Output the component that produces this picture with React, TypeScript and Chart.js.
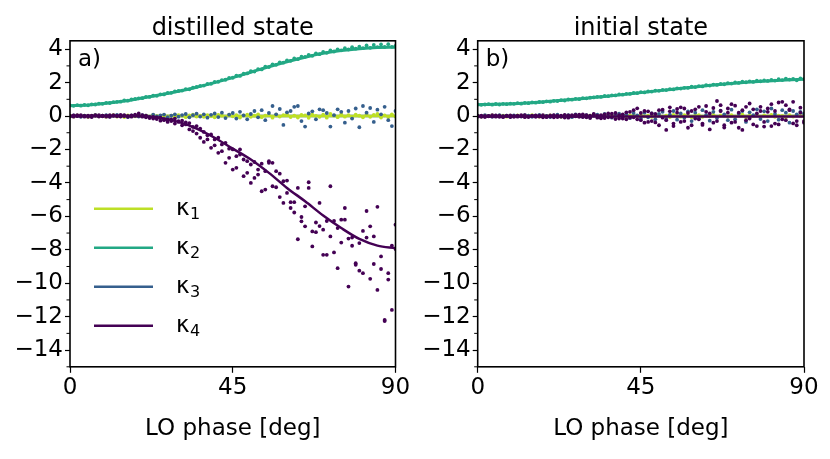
import { useEffect, useRef } from "react";
import Chart from "chart.js/auto";

const FONT = '"DejaVu Sans", sans-serif';

// measurement grid (LO phase, degrees) and grid of the fitted curves
const phase = [
  0, 1, 2, 3, 4, 5, 6, 7, 8, 9, 10, 11, 12, 13, 14, 15, 16, 17, 18, 19,
  20, 21, 22, 23, 24, 25, 26, 27, 28, 29, 30, 31, 32, 33, 34, 35, 36, 37, 38, 39,
  40, 41, 42, 43, 44, 45, 46, 47, 48, 49, 50, 51, 52, 53, 54, 55, 56, 57, 58, 59,
  60, 61, 62, 63, 64, 65, 66, 67, 68, 69, 70, 71, 72, 73, 74, 75, 76, 77, 78, 79,
  80, 81, 82, 83, 84, 85, 86, 87, 88, 89, 90,
];
const fitPhase = [0, 5, 10, 15, 20, 25, 30, 35, 40, 45, 50, 55, 60, 65, 70, 75, 80, 85, 90];

const seriesNames = ["1", "2", "3", "4"]; // subscripts of κ
const seriesColors = ["#bddf26", "#22a884", "#355f8d", "#440154"];
const lineWidths = [2.5, 3, 2.5, 2.5];
const xTicks = [0, 45, 90];
const yTicks = [4, 2, 0, -2, -4, -6, -8, -10, -12, -14];
const yMinorTicks = [3, 1, -1, -3, -5, -7, -9, -11, -13, -15];

// a) distilled state
const distK1 = [
  0.02, -0.03, 0.04, -0.01, 0.03, -0.05, 0.01, 0.05, -0.02, 0.03,
  -0.04, 0.02, 0.06, -0.03, 0.01, -0.06, 0.04, 0.02, -0.02, 0.05,
  -0.01, 0.03, -0.05, 0.07, 0.0, -0.04, 0.06, -0.02, 0.03, -0.06,
  0.05, 0.01, -0.07, 0.04, 0.08, -0.03, 0.02, -0.05, 0.06, 0.0,
  -0.08, 0.07, 0.03, -0.06, 0.09, -0.02, 0.05, -0.09, 0.04, 0.08,
  -0.05, 0.02, 0.1, -0.07, 0.03, 0.06, -0.1, 0.08, -0.03, 0.05,
  0.11, -0.06, 0.02, -0.09, 0.07, 0.04, -0.11, 0.09, 0.01, -0.05,
  0.08, -0.1, 0.12, 0.03, -0.07, 0.1, -0.04, 0.06, -0.12, 0.09,
  0.02, -0.08, 0.11, -0.05, 0.07, 0.13, -0.09, 0.04, -0.06, 0.1,
  -0.03,
];
const distK2 = [
  0.64, 0.61, 0.65, 0.62, 0.67, 0.64, 0.7, 0.69, 0.74, 0.73,
  0.79, 0.78, 0.83, 0.85, 0.86, 0.93, 0.92, 0.99, 1.02, 1.06,
  1.07, 1.15, 1.14, 1.22, 1.21, 1.3, 1.29, 1.38, 1.39, 1.47,
  1.5, 1.52, 1.61, 1.6, 1.7, 1.74, 1.8, 1.82, 1.92, 1.93,
  2.04, 2.05, 2.15, 2.17, 2.28, 2.29, 2.41, 2.4, 2.53, 2.55,
  2.68, 2.66, 2.8, 2.79, 2.95, 2.93, 3.09, 3.06, 3.21, 3.19,
  3.33, 3.3, 3.44, 3.4, 3.55, 3.54, 3.66, 3.6, 3.75, 3.7,
  3.84, 3.78, 3.92, 3.86, 3.99, 3.93, 4.06, 3.98, 4.12, 4.03,
  4.15, 4.06, 4.22, 4.08, 4.25, 4.12, 4.28, 4.13, 4.3, 4.14,
  4.2,
];
const distK3 = [
  -0.02, 0.04, 0.01, -0.05, 0.03, 0.0, -0.03, 0.06, -0.01, 0.02,
  0.05, -0.04, 0.02, 0.07, -0.02, 0.03, -0.06, 0.04, 0.01, -0.03,
  0.06, 0.02, -0.05, 0.08, -0.02, 0.04, 0.09, -0.07, 0.03, 0.1,
  -0.04, 0.06, 0.12, -0.08, 0.05, 0.14, -0.03, 0.1, -0.1, 0.07,
  0.15, -0.06, 0.2, -0.12, 0.08, 0.18, -0.15, 0.25, 0.04, -0.2,
  0.12, 0.3, -0.08, 0.35, -0.25, 0.18, 0.6, 0.1, 0.42, -0.53,
  0.22, 0.3, 0.55, 0.6, -0.3, -0.63, 0.15, 0.28, -0.2, 0.4,
  0.35, 0.18, -0.63, 0.05, 0.4, 0.25, -0.4, 0.3, -0.15, 0.45,
  -0.67, 0.6, 0.2, 0.48, -0.35, 0.38, 0.1, 0.55, -0.25, -0.6,
  0.3,
];
const distK4a = [
  0.02, -0.04, 0.05, -0.02, 0.01, -0.05, 0.03, 0.06, -0.03, 0.02,
  -0.04, 0.05, 0.01, -0.02, 0.07, 0.0, -0.05, 0.04, 0.03, 0.15,
  0.05, -0.08, -0.12, -0.05, -0.18, -0.1, -0.25, -0.22, -0.3, -0.15,
  -0.35, -0.28, -0.5, -0.42, -0.9, -0.6, -1.3, -0.95, -1.4, -1.1,
  -1.75, -1.3, -2.1, -1.6, -2.5, -2.0, -3.1, -2.3, -2.6, -3.4,
  -2.9, -3.7, -3.2, -4.5, -3.3, -2.8, -4.2, -3.3, -4.85, -5.2,
  -3.86, -5.5, -5.15, -7.37, -6.04, -6.6, -3.96, -7.8, -6.95, -6.58,
  -6.8, -8.3, -4.2, -8.16, -9.1, -7.57, -6.2, -10.2, -7.27, -8.8,
  -9.25, -6.87, -5.68, -9.74, -7.2, -5.43, -9.15, -12.2, -9.4, -7.76,
  -6.5,
];
const distK4b = [
  -0.03, 0.04, -0.01, 0.06, -0.04, 0.02, -0.06, 0.01, 0.05, -0.02,
  0.03, -0.05, 0.06, 0.02, -0.03, 0.05, 0.01, -0.04, 0.08, 0.02,
  -0.04, 0.03, -0.06, -0.15, -0.08, -0.28, -0.18, -0.35, -0.2, -0.45,
  -0.3, -0.55, -0.38, -0.8, -0.65, -1.05, -0.75, -1.55, -1.15, -1.9,
  -1.4, -2.2, -1.7, -2.8, -1.95, -3.2, -2.4, -2.0, -3.6, -2.7,
  -4.0, -2.75, -3.5, -2.85, -4.4, -2.7, -2.8, -4.26, -3.45, -3.9,
  -4.6, -5.15, -5.77, -4.3, -6.3, -5.4, -4.3, -6.9, -6.37, -5.2,
  -8.3, -6.28, -7.2, -6.28, -6.7, -6.2, -5.5, -7.33, -7.76, -8.9,
  -7.6, -9.4, -7.27, -6.6, -8.85, -10.4, -8.4, -12.26, -9.78, -11.6,
  -7.96,
];
const distFitK1 = [0, 0, 0, 0, 0, 0, 0, 0, 0, 0, 0, 0, 0, 0, 0, 0, 0, 0, 0];
const distFitK2 = [0.62, 0.66, 0.76, 0.9, 1.08, 1.27, 1.48, 1.72, 2.0, 2.3, 2.62, 2.95, 3.25, 3.52, 3.75, 3.92, 4.03, 4.1, 4.12];
const distFitK3 = [0, 0, 0, 0, 0, 0, 0, 0, 0, 0, 0, 0, 0, 0, 0, 0, 0, 0, 0];
const distFitK4 = [0, 0, 0, 0, -0.02, -0.12, -0.35, -0.75, -1.3, -1.95, -2.6, -3.4, -4.3, -5.1, -5.95, -6.7, -7.35, -7.75, -7.9];

// b) initial state
const initK1 = [
  0.01, -0.03, 0.02, -0.01, 0.04, -0.02, 0.0, 0.03, -0.04, 0.02,
  -0.02, 0.04, 0.01, -0.03, 0.02, 0.05, -0.01, -0.04, 0.03, 0.0,
  0.04, -0.02, 0.01, -0.05, 0.03, 0.02, -0.03, 0.05, -0.01, 0.02,
  -0.04, 0.03, 0.06, -0.02, 0.01, -0.05, 0.04, 0.02, -0.03, 0.05,
  0.0, -0.06, 0.04, 0.02, -0.04, 0.06, -0.02, 0.03, -0.05, 0.01,
  0.05, -0.03, 0.02, -0.06, 0.07, 0.0, -0.04, 0.05, 0.02, -0.07,
  0.03, 0.06, -0.05, 0.01, -0.02, 0.07, -0.06, 0.04, 0.0, -0.03,
  0.06, -0.04, 0.02, 0.08, -0.07, 0.03, -0.01, 0.05, -0.06, 0.04,
  -0.02, 0.07, -0.05, 0.03, 0.01, -0.08, 0.06, -0.03, 0.04, -0.01,
  0.03,
];
const initK2 = [
  0.7, 0.67, 0.69, 0.71, 0.68, 0.72, 0.69, 0.73, 0.71, 0.74,
  0.73, 0.77, 0.74, 0.79, 0.77, 0.82, 0.8, 0.84, 0.83, 0.88,
  0.86, 0.91, 0.9, 0.95, 0.93, 0.99, 0.98, 1.03, 1.01, 1.07,
  1.06, 1.1, 1.11, 1.15, 1.14, 1.2, 1.19, 1.24, 1.23, 1.29,
  1.28, 1.33, 1.32, 1.38, 1.37, 1.43, 1.41, 1.47, 1.46, 1.52,
  1.51, 1.56, 1.55, 1.61, 1.59, 1.66, 1.64, 1.69, 1.68, 1.75,
  1.73, 1.79, 1.77, 1.84, 1.82, 1.88, 1.86, 1.92, 1.9, 1.97,
  1.94, 2.01, 1.98, 2.05, 2.02, 2.07, 2.04, 2.11, 2.08, 2.13,
  2.1, 2.16, 2.12, 2.2, 2.15, 2.24, 2.18, 2.22, 2.14, 2.25,
  2.21,
];
const initK3 = [
  0.03, -0.02, 0.05, 0.01, -0.04, 0.02, 0.06, -0.01, 0.03, -0.05,
  0.04, 0.0, -0.03, 0.06, 0.02, -0.05, 0.03, 0.07, -0.02, 0.01,
  -0.06, 0.04, 0.08, -0.03, 0.02, 0.05, -0.07, 0.1, 0.01, -0.04,
  0.06, -0.08, 0.03, 0.09, -0.05, 0.12, 0.0, -0.1, 0.07, 0.14,
  -0.06, 0.1, -0.12, 0.18, 0.04, -0.15, 0.2, -0.08, 0.15, -0.2,
  0.12, 0.25, -0.18, 0.08, 0.3, -0.22, 0.15, -0.1, 0.28, -0.3,
  0.2, -0.15, 0.35, 0.05, -0.28, 0.25, -0.12, 0.32, 0.1, -0.25,
  0.38, -0.2, 0.15, 0.3, -0.35, 0.22, 0.05, 0.4, -0.18, 0.28,
  -0.3, 0.45, 0.12, -0.22, 0.35, 0.2, -0.4, 0.3, 0.1, 0.25,
  0.15,
];
const initK4a = [
  -0.04, 0.02, -0.06, 0.01, -0.03, 0.04, -0.05, -0.01, 0.03, -0.06,
  0.01, -0.04, 0.05, -0.07, -0.02, 0.03, -0.05, 0.02, -0.08, 0.0,
  -0.03, 0.05, -0.06, 0.02, -0.09, 0.04, -0.01, 0.07, -0.05, 0.1,
  -0.08, 0.03, 0.12, -0.1, 0.05, -0.12, 0.15, -0.06, 0.18, -0.15,
  0.1, -0.2, 0.25, -0.08, 0.46, -0.25, 0.3, -0.35, 0.15, -0.38,
  0.35, -0.1, -0.83, 0.28, -0.45, 0.42, 0.52, -0.3, 0.18, -0.55,
  0.4, -0.2, -0.53, 0.6, 0.15, -0.4, 0.9, 0.3, -0.69, 0.45,
  0.71, -0.35, 0.2, -0.83, 0.55, -0.15, 0.4, -0.6, 0.3, -0.63,
  0.25, 0.71, -0.45, 0.81, -0.2, 0.65, 0.35, -0.44, -0.3, 0.5,
  -0.4,
];
const initK4b = [
  0.03, -0.05, 0.01, -0.02, 0.05, -0.04, 0.02, -0.07, 0.0, 0.04,
  -0.05, 0.03, -0.02, 0.06, -0.06, 0.01, 0.04, -0.03, 0.05, -0.07,
  0.04, -0.08, 0.02, -0.04, 0.07, -0.1, 0.06, -0.02, 0.09, -0.06,
  0.05, -0.12, 0.08, 0.02, -0.14, 0.1, -0.08, 0.14, -0.18, 0.06,
  -0.15, 0.22, -0.1, 0.35, -0.2, 0.18, -0.4, 0.28, -0.3, 0.12,
  -0.55, 0.38, -0.25, 0.52, -0.6, 0.2, -0.35, 0.45, -0.7, 0.3,
  -0.15, 0.55, -0.45, 0.25, -0.8, 0.48, -0.3, 0.65, -0.55, 0.2,
  -0.4, 0.62, -0.7, 0.35, -0.25, 0.75, -0.5, 0.15, 0.55, -0.35,
  0.45, -0.6, 0.3, -0.5, 0.85, -0.25, 0.4, 0.85, -0.55, 0.2,
  -0.3,
];
const initFitK1 = [0, 0, 0, 0, 0, 0, 0, 0, 0, 0, 0, 0, 0, 0, 0, 0, 0, 0, 0];
const initFitK2 = [0.68, 0.7, 0.74, 0.8, 0.88, 0.97, 1.07, 1.17, 1.28, 1.4, 1.52, 1.63, 1.74, 1.85, 1.95, 2.03, 2.1, 2.16, 2.2];
const initFitK3 = [0, 0, 0, 0, 0, 0, 0, 0, 0, 0, 0, 0, 0, 0, 0, 0, 0, 0, 0];
const initFitK4 = [-0.03, -0.03, -0.03, -0.03, -0.03, -0.03, -0.03, -0.03, -0.03, -0.03, -0.03, -0.03, -0.03, -0.03, -0.03, -0.03, -0.03, -0.03, -0.03];

const pts = (xs: number[], ys: number[]) => xs.map((x, i) => ({ x, y: ys[i] }));
const minus = (v: number) => (v < 0 ? "\u2212" + Math.abs(v) : String(v));

type PanelProps = {
  title: string;
  tag: string;
  scatter: number[][][];
  fits: number[][];
  legend: boolean;
  axisWidth: number;
  rightPad: number;
};

const Panel = ({ title, tag, scatter, fits, legend, axisWidth, rightPad }: PanelProps) => {
  const canvasRef = useRef<HTMLCanvasElement | null>(null);

  useEffect(() => {
    const scatterSet = (k: number, ys: number[]) => ({
      data: pts(phase, ys),
      showLine: false,
      pointRadius: 1.9,
      pointBorderWidth: 0,
      backgroundColor: seriesColors[k],
      borderColor: seriesColors[k],
    });
    const fitSet = (k: number) => ({
      data: pts(fitPhase, fits[k]),
      showLine: true,
      pointRadius: 0,
      borderColor: seriesColors[k],
      backgroundColor: seriesColors[k],
      borderWidth: lineWidths[k],
      cubicInterpolationMode: "monotone" as const,
    });

    // listed bottom-most first
    const drawList: any[] = [
      fitSet(2),
      fitSet(0),
      ...scatter[0].map((ys) => scatterSet(0, ys)),
      ...scatter[2].map((ys) => scatterSet(2, ys)),
      ...scatter[1].map((ys) => scatterSet(1, ys)),
      fitSet(1),
      ...scatter[3].map((ys) => scatterSet(3, ys)),
      fitSet(3),
    ];
    drawList.forEach((d, i) => (d.order = drawList.length - i));

    const decor = {
      id: "decor",
      afterDatasetsDraw(chart: any) {
        const { ctx, chartArea: a, scales } = chart;
        ctx.save();
        ctx.strokeStyle = "#000";
        ctx.lineWidth = 1;
        yMinorTicks.forEach((v) => {
          const y = scales.y.getPixelForValue(v);
          ctx.beginPath();
          ctx.moveTo(a.left - 3.5, y);
          ctx.lineTo(a.left, y);
          ctx.stroke();
        });
        ctx.lineWidth = 1.6;
        ctx.strokeRect(a.left, a.top, a.right - a.left, a.bottom - a.top);

        ctx.fillStyle = "#000";
        ctx.textBaseline = "alphabetic";
        ctx.textAlign = "left";
        ctx.font = `23px ${FONT}`;
        ctx.fillText(tag, a.left + 8, a.top + 25);

        ctx.textAlign = "center";
        ctx.font = `24px ${FONT}`;
        ctx.fillText(title, (a.left + a.right) / 2, a.top - 6);

        if (legend) {
          ctx.textAlign = "left";
          seriesNames.forEach((sub, k) => {
            const y = a.top + 168 + k * 39;
            ctx.strokeStyle = seriesColors[k];
            ctx.lineWidth = 2.5;
            ctx.beginPath();
            ctx.moveTo(a.left + 24, y);
            ctx.lineTo(a.left + 83, y);
            ctx.stroke();
            ctx.fillStyle = "#000";
            ctx.font = `23px ${FONT}`;
            const x = a.left + 106;
            ctx.fillText("\u03ba", x, y + 6);
            const w = ctx.measureText("\u03ba").width;
            ctx.font = `16px ${FONT}`;
            ctx.fillText(sub, x + w + 0.5, y + 10);
          });
        }
        ctx.restore();
      },
    };

    const tickFont = { family: FONT, size: 23 };
    const chart = new Chart(canvasRef.current!, {
      type: "scatter",
      data: { datasets: drawList },
      options: {
        responsive: false,
        animation: false,
        events: [],
        layout: { padding: { top: 40.8, right: rightPad, left: 0, bottom: 0 } },
        plugins: { legend: { display: false }, tooltip: { enabled: false }, title: { display: false } },
        scales: {
          x: {
            type: "linear",
            min: 0,
            max: 90,
            afterBuildTicks: (s: any) => {
              s.ticks = xTicks.map((v) => ({ value: v }));
            },
            afterFit: (s: any) => {
              s.height = 92.2;
            },
            border: { display: false },
            grid: { display: true, drawOnChartArea: false, drawTicks: true, tickLength: 6, tickWidth: 1.2, tickColor: "#000" },
            ticks: { color: "#000", font: tickFont, padding: 1.5, maxRotation: 0, autoSkip: false, callback: (v: any) => minus(Number(v)) },
            title: { display: true, text: "LO phase [deg]", color: "#000", font: { family: FONT, size: 23, lineHeight: 1 }, padding: { top: 0, bottom: 18.8 } },
          },
          y: {
            type: "linear",
            min: -15,
            max: 4.5,
            afterBuildTicks: (s: any) => {
              s.ticks = yTicks.map((v) => ({ value: v }));
            },
            afterFit: (s: any) => {
              s.width = axisWidth;
            },
            border: { display: false },
            grid: { display: true, drawOnChartArea: false, drawTicks: true, tickLength: 5, tickWidth: 1.2, tickColor: "#000" },
            ticks: { color: "#000", font: tickFont, padding: 2, autoSkip: false, callback: (v: any) => minus(Number(v)) },
          },
        },
      },
      plugins: [decor],
    });

    return () => chart.destroy();
  }, []);

  return <canvas ref={canvasRef} width={415} height={459} />;
};

export default function App() {
  return (
    <div style={{ position: "absolute", left: 0, top: 0, width: 830, height: 459, background: "#fff" }}>
      <div style={{ position: "absolute", left: 0, top: 0, width: 415, height: 459 }}>
        <Panel
          title="distilled state"
          tag="a)"
          scatter={[[distK1], [distK2], [distK3], [distK4a, distK4b]]}
          fits={[distFitK1, distFitK2, distFitK3, distFitK4]}
          legend={true}
          axisWidth={70}
          rightPad={19.5}
        />
      </div>
      <div style={{ position: "absolute", left: 415, top: 0, width: 415, height: 459 }}>
        <Panel
          title="initial state"
          tag="b)"
          scatter={[[initK1], [initK2], [initK3], [initK4a, initK4b]]}
          fits={[initFitK1, initFitK2, initFitK3, initFitK4]}
          legend={false}
          axisWidth={62.7}
          rightPad={26}
        />
      </div>
    </div>
  );
}
